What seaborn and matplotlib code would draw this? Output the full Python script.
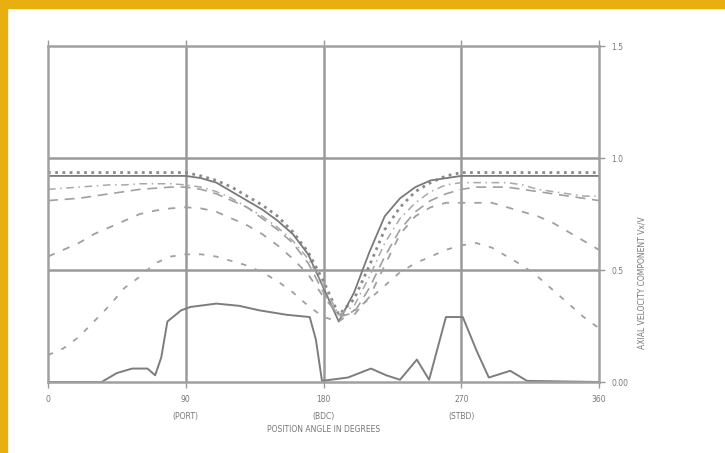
import matplotlib
matplotlib.use("Agg")
import matplotlib.pyplot as plt
import seaborn as sns
import pandas as pd

# position angle (deg) for the upper family of curves
angles = [0, 10, 20, 30, 40, 50, 60, 70, 80, 90, 100, 110, 120, 130, 140, 150, 160, 170, 180,
          190, 200, 210, 220, 230, 240, 250, 260, 270, 280, 290, 300, 310, 320, 330, 340, 350, 360]

dotted_top = [0.935, 0.935, 0.935, 0.935, 0.935, 0.935, 0.935, 0.935, 0.935, 0.935, 0.92, 0.90, 0.87,
              0.83, 0.79, 0.74, 0.67, 0.58, 0.45, 0.30, 0.37, 0.52, 0.68, 0.78, 0.85, 0.89, 0.92,
              0.935, 0.935, 0.935, 0.935, 0.935, 0.935, 0.935, 0.935, 0.935, 0.935]
solid_top = [0.92, 0.92, 0.92, 0.92, 0.92, 0.92, 0.92, 0.92, 0.92, 0.92, 0.91, 0.89, 0.85, 0.81,
             0.77, 0.72, 0.66, 0.57, 0.42, 0.27, 0.40, 0.58, 0.74, 0.82, 0.87, 0.90, 0.91, 0.92,
             0.92, 0.92, 0.92, 0.92, 0.92, 0.92, 0.92, 0.92, 0.92]
dashdot = [0.86, 0.865, 0.87, 0.875, 0.88, 0.88, 0.885, 0.885, 0.885, 0.88, 0.87, 0.85, 0.82, 0.78,
           0.74, 0.69, 0.63, 0.55, 0.43, 0.30, 0.34, 0.47, 0.62, 0.73, 0.80, 0.85, 0.88, 0.89,
           0.89, 0.89, 0.89, 0.88, 0.86, 0.85, 0.84, 0.83, 0.83]
longdash = [0.81, 0.815, 0.82, 0.83, 0.84, 0.85, 0.86, 0.865, 0.87, 0.87, 0.86, 0.84, 0.81, 0.78,
            0.73, 0.68, 0.62, 0.53, 0.40, 0.29, 0.31, 0.42, 0.56, 0.68, 0.76, 0.81, 0.84, 0.86,
            0.87, 0.87, 0.87, 0.86, 0.85, 0.84, 0.83, 0.82, 0.81]
middash = [0.56, 0.59, 0.62, 0.66, 0.69, 0.72, 0.75, 0.765, 0.775, 0.78, 0.775, 0.76, 0.73, 0.70,
           0.66, 0.61, 0.55, 0.48, 0.38, 0.30, 0.30, 0.38, 0.52, 0.66, 0.74, 0.78, 0.80, 0.80,
           0.80, 0.80, 0.78, 0.76, 0.74, 0.71, 0.67, 0.63, 0.59]
lowdash = [0.12, 0.15, 0.20, 0.27, 0.34, 0.42, 0.47, 0.53, 0.56, 0.57, 0.57, 0.56, 0.54, 0.52,
           0.49, 0.45, 0.40, 0.34, 0.29, 0.27, 0.32, 0.37, 0.43, 0.49, 0.53, 0.56, 0.59, 0.61,
           0.62, 0.60, 0.56, 0.52, 0.47, 0.41, 0.35, 0.29, 0.24]

# bottom solid curve has its own angle points
bottom_angles = [0, 35, 45, 55, 65, 70, 74, 78, 87, 93, 110, 125, 138, 156, 171, 175, 179,
                 196, 211, 221, 230, 241, 249, 260, 271, 280, 288, 302, 313, 360]
bottom_vals = [0, 0, 0.04, 0.06, 0.06, 0.03, 0.11, 0.27, 0.32, 0.335, 0.35, 0.34, 0.32, 0.30,
               0.29, 0.19, 0.005, 0.02, 0.06, 0.03, 0.01, 0.10, 0.01, 0.29, 0.29, 0.14, 0.02,
               0.05, 0.005, 0]

x_ticks = [0, 90, 180, 270, 360]
x_ticklabels = ["0", "90\n(PORT)", "180\n(BDC)", "270\n(STBD)", "360"]
y_ticks = [0, 0.5, 1.0, 1.5]
y_ticklabels = ["0.00", "0.5", "1.0", "1.5"]

curves = {
    "dotted": dotted_top,
    "solid": solid_top,
    "dashdot": dashdot,
    "longdash": longdash,
    "middash": middash,
    "lowdash": lowdash,
}
frames = [pd.DataFrame({"angle": angles, "value": v, "curve": k}) for k, v in curves.items()]
frames.append(pd.DataFrame({"angle": bottom_angles, "value": bottom_vals, "curve": "bottom"}))
df = pd.concat(frames, ignore_index=True)

sns.set_style("white")
plt.rcParams["font.family"] = ["DejaVu Sans"]

fig = plt.figure(figsize=(7.25, 4.53), dpi=100)
ax = fig.add_axes([48 / 725, 71 / 453, 551 / 725, 336 / 453])

styles = {
    "dotted": ((0, (1, 1.6)), 2.0, "#8a8a8a"),
    "solid": ("-", 1.3, "#7a7a7a"),
    "dashdot": ((0, (5, 3, 1, 3)), 1.1, "#a8a8a8"),
    "longdash": ((0, (6, 4)), 1.2, "#a0a0a0"),
    "middash": ((0, (4, 5)), 1.3, "#a0a0a0"),
    "lowdash": ((0, (3, 5)), 1.3, "#a0a0a0"),
    "bottom": ("-", 1.4, "#7d7d7d"),
}
for name, (ls, lw, col) in styles.items():
    sns.lineplot(data=df[df["curve"] == name], x="angle", y="value", ax=ax,
                 color=col, linewidth=lw, linestyle=ls, legend=False)

for xv in [90, 180, 270]:
    ax.axvline(xv, color="#9a9a9a", lw=1.8, zorder=1)
for yv in [0.5, 1.0]:
    ax.axhline(yv, color="#9a9a9a", lw=1.8, zorder=1)

ax.set_xlim(0, 360)
ax.set_ylim(0, 1.5)
for s in ax.spines.values():
    s.set_color("#a0a0a0")
    s.set_linewidth(1.8)

ax.set_xticks(x_ticks)
ax.set_xticklabels(x_ticklabels, fontsize=5.5, color="#777777", linespacing=2.2, va="top")
ax.yaxis.tick_right()
ax.set_yticks(y_ticks)
ax.set_yticklabels(y_ticklabels, fontsize=5.5, color="#777777")
ax.tick_params(axis="both", length=4, width=1, color="#999999", direction="out", pad=5)
ax.tick_params(top=True, labeltop=False, bottom=True, right=True, left=False)
ax.set_xlabel("POSITION ANGLE IN DEGREES", fontsize=5.5, color="#777777", labelpad=3)
ax.set_ylabel("")

fig.text(642 / 725, 1 - 283 / 453, "AXIAL VELOCITY COMPONENT Vx/V", rotation=90,
         fontsize=5.5, color="#777777", ha="center", va="center")

# yellow page border (top and left)
fig.patches.append(plt.Rectangle((0, 1 - 8 / 453), 1, 8 / 453, transform=fig.transFigure,
                                 color="#E8AF10", zorder=0))
fig.patches.append(plt.Rectangle((0, 0), 7 / 725, 1, transform=fig.transFigure,
                                 color="#E8AF10", zorder=0))

fig.savefig("out.png", dpi=100)
